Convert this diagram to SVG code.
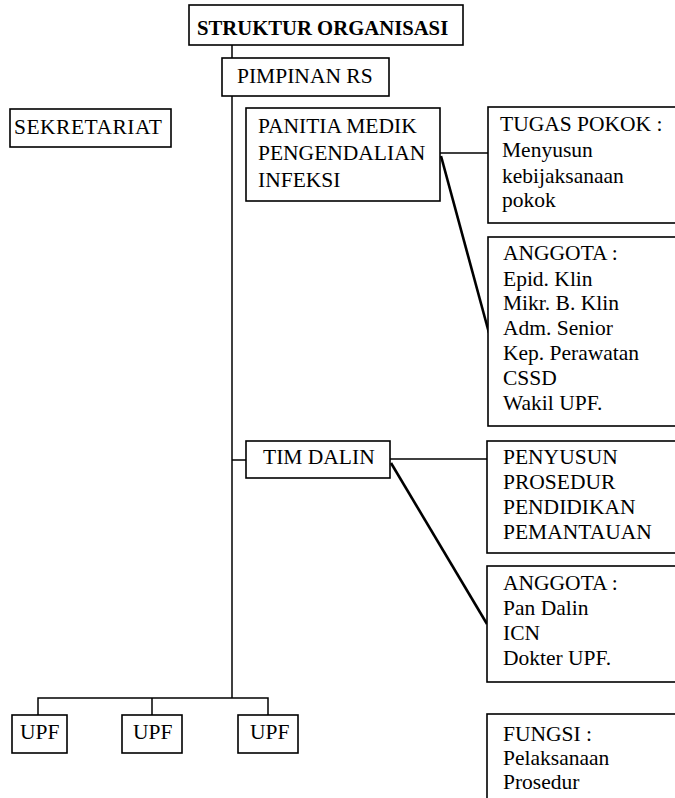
<svg xmlns="http://www.w3.org/2000/svg" width="675" height="798" viewBox="0 0 675 798">
<style>
.box{fill:#fff;stroke:#000;stroke-width:1.6}
text{font-family:'Liberation Serif','Times New Roman',Tinos,'DejaVu Serif',serif;font-size:21.5px;fill:#000}
.b{font-weight:bold;font-size:20.7px}
.ln{stroke:#000;stroke-width:1.5;fill:none}
.dg{stroke:#000;stroke-width:2.6;fill:none}
</style>
<rect width="675" height="798" fill="#fff"/>
<g id="connectors">
<line class="ln" x1="232" y1="45" x2="232" y2="58"/>
<line class="ln" x1="232" y1="96" x2="232" y2="698"/>
<line class="ln" x1="232" y1="460" x2="246" y2="460"/>
<line class="ln" x1="440" y1="153" x2="488" y2="153"/>
<line class="dg" x1="441" y1="156" x2="489" y2="333"/>
<line class="ln" x1="390" y1="459" x2="487" y2="459"/>
<line class="dg" x1="391" y1="463" x2="487" y2="624"/>
<polyline class="ln" points="38,715 38,698 268,698 268,715"/>
<line class="ln" x1="152" y1="698" x2="152" y2="715"/>
</g>
<g font-family="Liberation Serif, Times New Roman, serif">
<g id="struktur"><rect class="box" x="189" y="5" width="274" height="40"/><text class="b" x="197" y="35">STRUKTUR ORGANISASI</text></g>
<g id="pimpinan"><rect class="box" x="222" y="58" width="167" height="38"/><text x="237" y="83">PIMPINAN RS</text></g>
<g id="sekretariat"><rect class="box" x="10" y="109" width="161" height="38"/><text x="14" y="134" letter-spacing="0.5">SEKRETARIAT</text></g>
<g id="panitia"><rect class="box" x="246" y="108" width="194" height="93"/><text x="258" y="133">PANITIA MEDIK</text><text x="258" y="160">PENGENDALIAN</text><text x="258" y="187">INFEKSI</text></g>
<g id="tugas"><rect class="box" x="488" y="107" width="200" height="116"/><text x="500" y="131">TUGAS POKOK :</text><text x="502" y="157">Menyusun</text><text x="502" y="183">kebijaksanaan</text><text x="502" y="207">pokok</text></g>
<g id="anggota1"><rect class="box" x="488" y="237" width="200" height="189"/><text x="503" y="260">ANGGOTA :</text><text x="503" y="286">Epid. Klin</text><text x="503" y="310">Mikr. B. Klin</text><text x="503" y="335">Adm. Senior</text><text x="503" y="360">Kep. Perawatan</text><text x="503" y="385">CSSD</text><text x="503" y="410">Wakil UPF.</text></g>
<g id="timdalin"><rect class="box" x="246" y="441" width="144" height="37"/><text x="263" y="464">TIM DALIN</text></g>
<g id="penyusun"><rect class="box" x="487" y="441" width="200" height="112"/><text x="503" y="464">PENYUSUN</text><text x="503" y="489">PROSEDUR</text><text x="503" y="514">PENDIDIKAN</text><text x="503" y="539">PEMANTAUAN</text></g>
<g id="anggota2"><rect class="box" x="487" y="566" width="200" height="116"/><text x="503" y="590">ANGGOTA :</text><text x="503" y="615">Pan Dalin</text><text x="503" y="640">ICN</text><text x="503" y="665">Dokter UPF.</text></g>
<g id="upf1"><rect class="box" x="12" y="715" width="55" height="38"/><text x="20" y="739">UPF</text></g>
<g id="upf2"><rect class="box" x="122" y="715" width="60" height="38"/><text x="133" y="739">UPF</text></g>
<g id="upf3"><rect class="box" x="238" y="715" width="60" height="38"/><text x="250" y="739">UPF</text></g>
<g id="fungsi"><rect class="box" x="487" y="714" width="200" height="100"/><text x="503" y="741">FUNGSI :</text><text x="503" y="765">Pelaksanaan</text><text x="503" y="789">Prosedur</text></g>
</g>
</svg>
